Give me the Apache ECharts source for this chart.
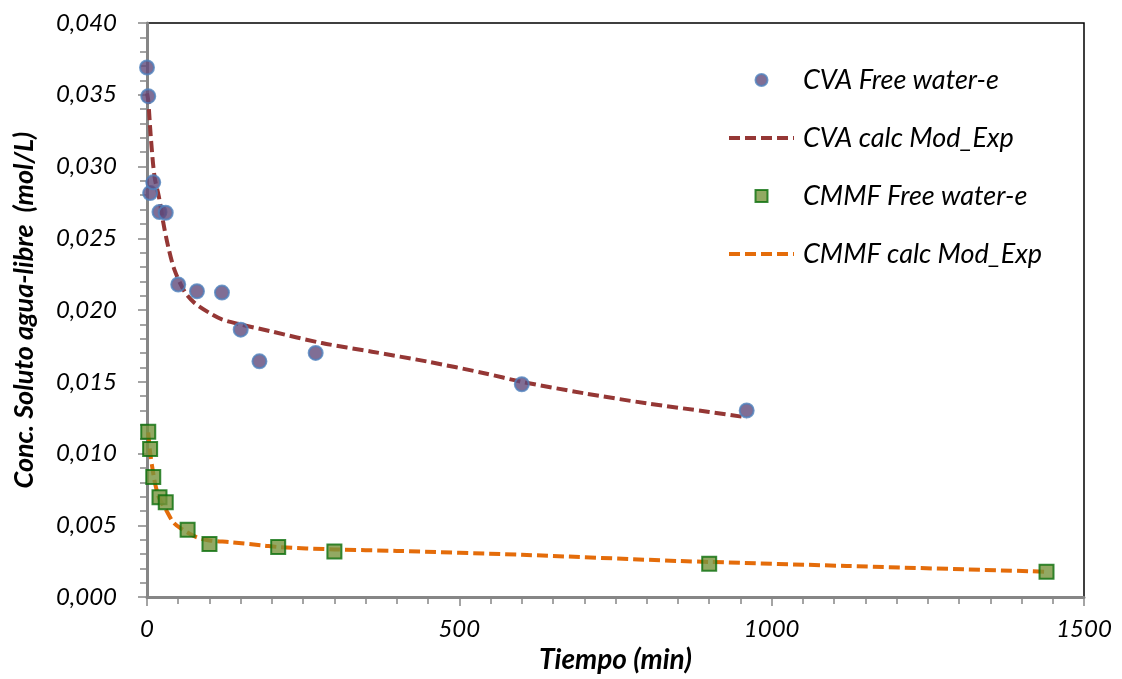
<!DOCTYPE html>
<html>
<head>
<meta charset="utf-8">
<script src="https://cdn.jsdelivr.net/npm/echarts@6/dist/echarts.min.js"></script>
<style>
  html, body { margin: 0; padding: 0; background: #fff; }
  #chart { width: 1122px; height: 679px; }
</style>
</head>
<body>
<div id="chart"></div>
<script>
// measured points (time in min, conc in mol/L)
const cvaTime = [0, 2, 5, 10, 20, 30, 50, 80, 120, 150, 180, 270, 600, 960];
const cvaConc = [0.0369, 0.0349, 0.02815, 0.0289, 0.02683, 0.02678, 0.02178, 0.02131, 0.02122, 0.01863, 0.01643, 0.01701, 0.01483, 0.0130];

const cvaCalcTime = [0, 2, 6, 12, 19, 26, 34, 44, 60, 76, 100, 120, 150, 200, 280, 360, 450, 540, 600, 700, 800, 900, 960];
const cvaCalcConc = [0.0351, 0.0346, 0.0321, 0.0293, 0.0279, 0.0261, 0.0244, 0.0228, 0.0213, 0.0205, 0.0198, 0.01935, 0.0190, 0.0185, 0.0177, 0.0171, 0.0164, 0.0156, 0.0150, 0.0142, 0.0135, 0.0129, 0.01252];

const cmmfTime = [2, 5, 10, 20, 30, 65, 100, 210, 300, 900, 1440];
const cmmfConc = [0.01152, 0.01032, 0.00837, 0.00696, 0.00661, 0.00469, 0.0037, 0.00349, 0.00318, 0.00233, 0.00177];

const cmmfCalcTime = [2, 5, 11, 15, 20, 31, 42, 55, 79, 100, 132, 186, 210, 300, 400, 600, 853, 900, 1120, 1440];
const cmmfCalcConc = [0.01148, 0.01009, 0.00835, 0.00754, 0.00684, 0.00603, 0.00522, 0.00476, 0.00418, 0.00395, 0.00383, 0.0036, 0.00349, 0.00332, 0.00322, 0.00295, 0.00251, 0.00245, 0.00217, 0.00177];

const seriesNames = ['CVA Free water-e', 'CVA calc Mod_Exp', 'CMMF Free water-e', 'CMMF calc Mod_Exp'];

const pair = (xs, ys) => xs.map((x, i) => [x, ys[i]]);
const font = 'Lato';
const hidden = { color: 'rgba(0,0,0,0)', borderWidth: 0 };

const chart = echarts.init(document.getElementById('chart'), null, { renderer: 'canvas' });

chart.setOption({
  animation: false,
  backgroundColor: '#fff',
  grid: {
    left: 147, top: 23, right: 38, bottom: 80,
    show: true, borderColor: '#000', borderWidth: 1.5, backgroundColor: 'transparent'
  },
  legend: {
    orient: 'vertical',
    left: 722, top: 61,
    itemWidth: 65, itemHeight: 12, itemGap: 30,
    symbolKeepAspect: true,
    textStyle: { fontFamily: font, fontStyle: 'italic', fontSize: 27, color: '#000', lineHeight: 28, padding: [0, 0, 0, 4] },
    data: [
      { name: seriesNames[0], icon: 'circle' },
      { name: seriesNames[1], itemStyle: hidden, lineStyle: { width: 4, type: [11, 5] } },
      { name: seriesNames[2], icon: 'path://M0 0H10V10H0Z' },
      { name: seriesNames[3], itemStyle: hidden, lineStyle: { width: 4, type: [11, 5] } }
    ]
  },
  xAxis: {
    type: 'value', min: 0, max: 1500, interval: 500,
    name: 'Tiempo (min)', nameLocation: 'middle', nameGap: 47,
    nameTextStyle: { fontFamily: font, fontStyle: 'italic', fontWeight: 'bold', fontSize: 28, color: '#000' },
    axisLine: { lineStyle: { color: '#868686', width: 3 } },
    axisTick: { show: true, inside: false, length: 9, lineStyle: { color: '#868686', width: 1.5 } },
    minorTick: { show: true, splitNumber: 10, length: 7, lineStyle: { color: '#868686', width: 1.5 } },
    axisLabel: { fontFamily: font, fontStyle: 'italic', fontSize: 24, color: '#000', margin: 20, formatter: (v) => String(v) },
    splitLine: { show: false }
  },
  yAxis: {
    type: 'value', min: 0, max: 0.04, interval: 0.005,
    name: 'Conc. Soluto agua-libre  (mol/L)', nameLocation: 'middle', nameGap: 109,
    nameTextStyle: { fontFamily: font, fontStyle: 'italic', fontWeight: 'bold', fontSize: 27, color: '#000' },
    axisLine: { lineStyle: { color: '#868686', width: 3 } },
    axisTick: { show: true, inside: false, length: 9, lineStyle: { color: '#868686', width: 1.5 } },
    minorTick: { show: true, splitNumber: 5, length: 7, lineStyle: { color: '#868686', width: 1.5 } },
    axisLabel: {
      fontFamily: font, fontStyle: 'italic', fontSize: 24, color: '#000', margin: 30,
      formatter: (v) => v.toFixed(3).replace('.', ',')
    },
    splitLine: { show: false }
  },
  series: [
    {
      name: seriesNames[0], type: 'scatter', z: 5,
      symbol: 'circle', symbolSize: 14,
      itemStyle: { color: '#604A7B', borderColor: '#4F81BD', borderWidth: 2 },
      data: pair(cvaTime, cvaConc)
    },
    {
      name: seriesNames[1], type: 'line', z: 3,
      symbol: 'none', smooth: 0.3,
      lineStyle: { color: '#953735', width: 4, type: [11, 5] },
      itemStyle: { color: '#953735' },
      data: pair(cvaCalcTime, cvaCalcConc)
    },
    {
      name: seriesNames[2], type: 'scatter', z: 5,
      symbol: 'rect', symbolSize: 14,
      itemStyle: { color: '#77933C', borderColor: '#0A6E0A', borderWidth: 2 },
      data: pair(cmmfTime, cmmfConc)
    },
    {
      name: seriesNames[3], type: 'line', z: 3,
      symbol: 'none', smooth: 0.3,
      lineStyle: { color: '#E46C0A', width: 4, type: [11, 5] },
      itemStyle: { color: '#E46C0A' },
      data: pair(cmmfCalcTime, cmmfCalcConc)
    }
  ]
});
</script>
</body>
</html>
